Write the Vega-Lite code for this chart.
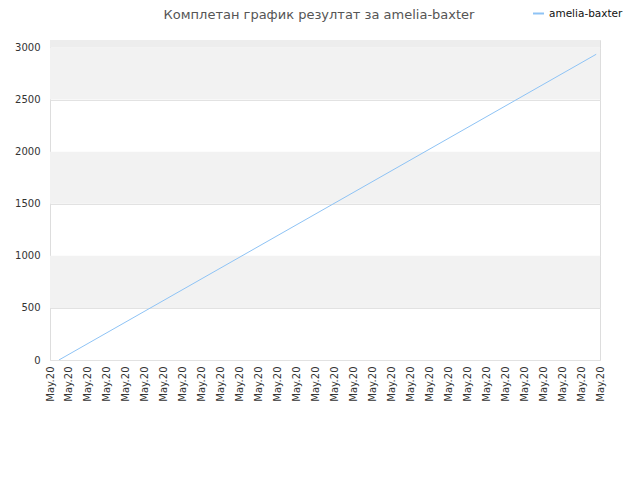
{
  "$schema": "https://vega.github.io/schema/vega-lite/v6.json",
  "description": "Комплетан график резултат за amelia-baxter",
  "width": 550,
  "height": 320,
  "autosize": {"type": "none"},
  "padding": {"left": 50, "top": 40, "right": 40, "bottom": 120},
  "background": "white",
  "config": {
    "font": "DejaVu Sans",
    "view": {"stroke": "#dddddd", "strokeWidth": 1},
    "axis": {
      "labelFont": "DejaVu Sans",
      "labelFontSize": 10,
      "labelColor": "#333333",
      "domain": false,
      "ticks": false,
      "title": null
    }
  },
  "title": {
    "text": "Комплетан график резултат за amelia-baxter",
    "fontSize": 13,
    "fontWeight": "normal",
    "color": "#555555",
    "anchor": "middle",
    "baseline": "middle",
    "dx": -6,
    "offset": -21
  },
  "datasets": {
    "bands": [
      {"lo": 500, "hi": 1000, "shade": "a"},
      {"lo": 1500, "hi": 2000, "shade": "a"},
      {"lo": 2500, "hi": 3000, "shade": "a"},
      {"lo": 3000, "hi": 3072, "shade": "b"}
    ],
    "scores": [
      {"t": 0.47, "score": 0, "player": "amelia-baxter"},
      {"t": 28.8, "score": 2935, "player": "amelia-baxter"}
    ]
  },
  "layer": [
    {
      "data": {"name": "bands"},
      "mark": {"type": "rect"},
      "encoding": {
        "y": {"field": "lo", "type": "quantitative", "scale": {"domain": [0, 3072], "nice": false, "zero": true}},
        "y2": {"field": "hi"},
        "color": {
          "field": "shade",
          "type": "nominal",
          "scale": {"domain": ["a", "b"], "range": ["#f2f2f2", "#ededed"]},
          "legend": null
        }
      }
    },
    {
      "data": {"name": "scores"},
      "mark": {"type": "line", "strokeWidth": 1, "clip": true},
      "encoding": {
        "x": {
          "field": "t",
          "type": "quantitative",
          "scale": {"domain": [0, 29], "nice": false, "zero": false},
          "axis": {
            "values": [0, 1, 2, 3, 4, 5, 6, 7, 8, 9, 10, 11, 12, 13, 14, 15, 16, 17, 18, 19, 20, 21, 22, 23, 24, 25, 26, 27, 28, 29],
            "labelExpr": "'May.20'",
            "labelAngle": -90,
            "labelAlign": "right",
            "labelBaseline": "middle",
            "labelPadding": 6,
            "grid": false,
            "labelOverlap": false
          }
        },
        "y": {
          "field": "score",
          "type": "quantitative",
          "scale": {"domain": [0, 3072], "nice": false},
          "axis": {
            "values": [0, 500, 1000, 1500, 2000, 2500, 3000],
            "format": "d",
            "grid": true,
            "gridColor": "#e2e2e2",
            "labelPadding": 10
          }
        },
        "stroke": {
          "field": "player",
          "type": "nominal",
          "scale": {"range": ["#8ec3f5"]},
          "legend": {
            "title": null,
            "orient": "none",
            "legendX": 482,
            "legendY": -33,
            "symbolType": "stroke",
            "symbolSize": 120,
            "symbolStrokeWidth": 2,
            "labelFontSize": 10.5,
            "labelColor": "#111111",
            "labelFont": "DejaVu Sans"
          }
        }
      }
    }
  ]
}
